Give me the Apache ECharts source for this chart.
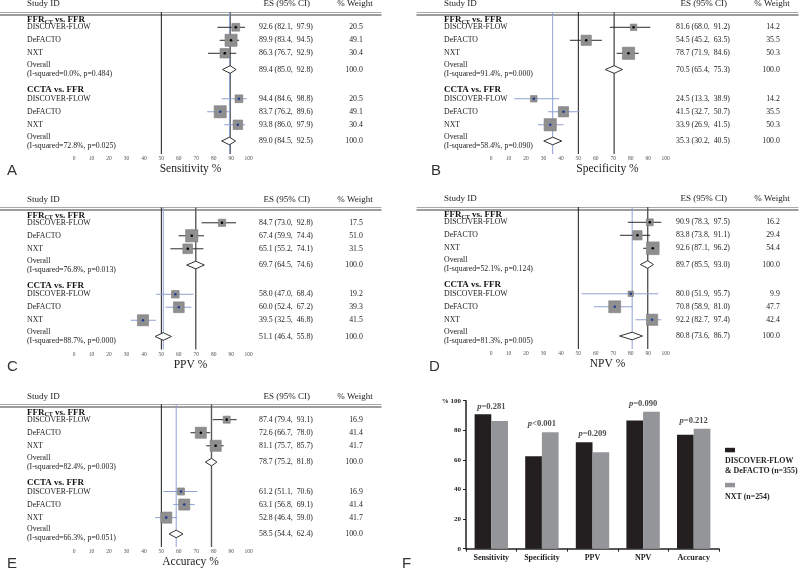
<!DOCTYPE html>
<html><head><meta charset="utf-8">
<script src="https://cdn.jsdelivr.net/npm/echarts@6.0.0/dist/echarts.min.js"></script>
<style>html,body{margin:0;padding:0;background:#fff}#c{width:800px;height:569px}</style>
</head><body><div id="c"></div><script>
// ---------------- DATA ----------------
const studyNames = ['DISCOVER-FLOW', 'DeFACTO', 'NXT'];
const groupNames = ['FFRCT vs. FFR', 'CCTA vs. FFR'];
const headerLabels = ['Study ID', 'ES (95% CI)', '% Weight'];
const xTickValues = [0, 10, 20, 30, 40, 50, 60, 70, 80, 90, 100];
const panelTitles = ['Sensitivity %', 'Specificity %', 'PPV %', 'NPV %', 'Accuracy %'];
const panelLetters = ['A', 'B', 'C', 'D', 'E', 'F'];

// study rows: [ES, lower 95% CI, upper 95% CI, % weight]
const sensFfrct = [[92.6, 82.1, 97.9, 20.5], [89.9, 83.4, 94.5, 49.1], [86.3, 76.7, 92.9, 30.4]];
const sensFfrctOverall = [89.4, 85.0, 92.8];
const sensFfrctHet = [0.0, 0.484];
const sensCcta = [[94.4, 84.6, 98.8, 20.5], [83.7, 76.2, 89.6, 49.1], [93.8, 86.0, 97.9, 30.4]];
const sensCctaOverall = [89.0, 84.5, 92.5];
const sensCctaHet = [72.8, 0.025];

const specFfrct = [[81.6, 68.0, 91.2, 14.2], [54.5, 45.2, 63.5, 35.5], [78.7, 71.9, 84.6, 50.3]];
const specFfrctOverall = [70.5, 65.4, 75.3];
const specFfrctHet = [91.4, 0.000];
const specCcta = [[24.5, 13.3, 38.9, 14.2], [41.5, 32.7, 50.7, 35.5], [33.9, 26.9, 41.5, 50.3]];
const specCctaOverall = [35.3, 30.2, 40.5];
const specCctaHet = [58.4, 0.090];

const ppvFfrct = [[84.7, 73.0, 92.8, 17.5], [67.4, 59.9, 74.4, 51.0], [65.1, 55.2, 74.1, 31.5]];
const ppvFfrctOverall = [69.7, 64.5, 74.6];
const ppvFfrctHet = [76.8, 0.013];
const ppvCcta = [[58.0, 47.0, 68.4, 19.2], [60.0, 52.4, 67.2, 39.3], [39.5, 32.5, 46.8, 41.5]];
const ppvCctaOverall = [51.1, 46.4, 55.8];
const ppvCctaHet = [88.7, 0.000];

const npvFfrct = [[90.9, 78.3, 97.5, 16.2], [83.8, 73.8, 91.1, 29.4], [92.6, 87.1, 96.2, 54.4]];
const npvFfrctOverall = [89.7, 85.5, 93.0];
const npvFfrctHet = [52.1, 0.124];
const npvCcta = [[80.0, 51.9, 95.7, 9.9], [70.8, 58.9, 81.0, 47.7], [92.2, 82.7, 97.4, 42.4]];
const npvCctaOverall = [80.8, 73.6, 86.7];
const npvCctaHet = [81.3, 0.005];

const accFfrct = [[87.4, 79.4, 93.1, 16.9], [72.6, 66.7, 78.0, 41.4], [81.1, 75.7, 85.7, 41.7]];
const accFfrctOverall = [78.7, 75.2, 81.8];
const accFfrctHet = [82.4, 0.003];
const accCcta = [[61.2, 51.1, 70.6, 16.9], [63.1, 56.8, 69.1, 41.4], [52.8, 46.4, 59.0, 41.7]];
const accCctaOverall = [58.5, 54.4, 62.4];
const accCctaHet = [66.3, 0.051];

// panel F
const barCategories = ['Sensitivity', 'Specificity', 'PPV', 'NPV', 'Accuracy'];
const barSeriesNames = ['DISCOVER-FLOW\n& DeFACTO (n=355)', 'NXT (n=254)'];
const barDfDefacto = [90.8, 62.5, 72.0, 86.6, 77.0];
const barNxt = [86.3, 78.7, 65.1, 92.6, 81.1];
const barPValues = ['=0.281', '<0.001', '=0.209', '=0.090', '=0.212'];

// ---------------- LAYOUT ----------------
const SERIF = '"Liberation Serif", "Times New Roman", serif';
const SANS = '"Liberation Sans", Arial, sans-serif';
const PX_PER_UNIT = 1.747;
const PANEL_W = 381;
const ZERO_OFFSET = 74;
const X_MIN = -ZERO_OFFSET / PX_PER_UNIT;
const X_MAX = X_MIN + PANEL_W / PX_PER_UNIT;
const STUDY_X = -26.9, ES_X = 105.9, WT_X = 165.3, ES_HEAD_X = 121.8, WT_HEAD_X = 160.8;
const studyRowPos = [[1, 2, 3], [6.5, 7.5, 8.5]];
const overallRowPos = [4.25, 9.75];
const groupRowPos = [0.45, 5.82];
const headerRowPos = -0.8;
const Y_MIN = -0.177, Y_MAX = 10.75;

const panelBoxes = [
  { left: 0, top: 12, height: 142 },
  { left: 417, top: 12, height: 142 },
  { left: 0, top: 207.5, height: 142 },
  { left: 417, top: 207, height: 142 },
  { left: 0, top: 404.3, height: 143 }
];
const panelData = [
  [[sensFfrct, sensFfrctOverall, sensFfrctHet], [sensCcta, sensCctaOverall, sensCctaHet]],
  [[specFfrct, specFfrctOverall, specFfrctHet], [specCcta, specCctaOverall, specCctaHet]],
  [[ppvFfrct, ppvFfrctOverall, ppvFfrctHet], [ppvCcta, ppvCctaOverall, ppvCctaHet]],
  [[npvFfrct, npvFfrctOverall, npvFfrctHet], [npvCcta, npvCctaOverall, npvCctaHet]],
  [[accFfrct, accFfrctOverall, accFfrctHet], [accCcta, accCctaOverall, accCctaHet]]
];

const TEXT = '#1c1c1c';
const CI_COLORS = ['#2a2a2a', '#8ea1d3'];
const DOT_COLORS = ['#000000', '#1f3b94'];
const REF_COLORS = ['#5a5a5a', '#8ea1d3'];

function fmtCI(es, lo, hi) {
  return es.toFixed(1) + ' (' + lo.toFixed(1) + ',  ' + hi.toFixed(1) + ')';
}

const grids = [], xAxes = [], yAxes = [], series = [], graphics = [];

panelData.forEach((groups, pi) => {
  const box = panelBoxes[pi];
  grids.push({ left: box.left, top: box.top, width: PANEL_W, height: box.height, containLabel: false });
  xAxes.push({
    type: 'value', gridIndex: pi, min: X_MIN, max: X_MAX, position: 'bottom',
    axisLine: { show: true, lineStyle: { color: '#7d7d7d', width: 1.5 } },
    axisTick: { show: false },
    axisLabel: { customValues: xTickValues, fontSize: 5.5, margin: 2, color: '#555', fontFamily: SERIF },
    splitLine: { show: false },
    name: panelTitles[pi], nameLocation: 'middle', nameGap: 9,
    nameTextStyle: { fontSize: 11.5, fontFamily: SERIF, color: TEXT }
  });
  xAxes.push({
    type: 'value', gridIndex: pi, min: X_MIN, max: X_MAX, position: 'top',
    axisLine: { show: true, lineStyle: { color: '#a8a8a8', width: 1 } },
    axisTick: { show: false }, axisLabel: { show: false }, splitLine: { show: false }
  });
  yAxes.push({ type: 'value', gridIndex: pi, inverse: true, min: Y_MIN, max: Y_MAX, show: false });

  const xi = pi * 2, yi = pi;

  // reference lines: null (50), overall FFRct, overall CCTA
  const refData = [[50, 0], [groups[0][1][0], 1], [groups[1][1][0], 2]];
  series.push({
    type: 'custom', xAxisIndex: xi, yAxisIndex: yi, silent: true, z: 1, data: refData,
    renderItem: (params, api) => {
      const x = api.value(0), k = api.value(1);
      const p1 = api.coord([x, Y_MIN]), p2 = api.coord([x, Y_MAX]);
      const color = k === 0 ? '#1a1a1a' : REF_COLORS[k - 1];
      const w = k === 0 ? 1 : (k === 1 ? 1.4 : 1);
      return { type: 'line', shape: { x1: p1[0], y1: p1[1], x2: p2[0], y2: p2[1] }, style: { stroke: color, lineWidth: w } };
    }
  });

  // studies
  const studyData = [];
  groups.forEach((g, gi) => g[0].forEach((r, ri) => studyData.push([r[0], r[1], r[2], r[3], studyRowPos[gi][ri], gi])));
  series.push({
    type: 'custom', xAxisIndex: xi, yAxisIndex: yi, silent: true, z: 3, data: studyData,
    renderItem: (params, api) => {
      const es = api.value(0), lo = api.value(1), hi = api.value(2), wt = api.value(3), row = api.value(4), g = api.value(5);
      const pE = api.coord([es, row]), pL = api.coord([lo, row]), pH = api.coord([hi, row]);
      const s = 1.72 * Math.sqrt(wt);
      return {
        type: 'group', children: [
          { type: 'line', shape: { x1: pL[0], y1: pL[1], x2: pH[0], y2: pH[1] }, style: { stroke: CI_COLORS[g], lineWidth: 1 } },
          { type: 'rect', shape: { x: pE[0] - s / 2, y: pE[1] - s / 2, width: s, height: s }, style: { fill: '#8f8f8f', stroke: '#7b7b7b', lineWidth: 0.6 } },
          { type: 'circle', shape: { cx: pE[0], cy: pE[1], r: 1.3 }, style: { fill: DOT_COLORS[g] } }
        ]
      };
    }
  });

  // overall diamonds
  const diaData = groups.map((g, gi) => [g[1][0], g[1][1], g[1][2], overallRowPos[gi]]);
  series.push({
    type: 'custom', xAxisIndex: xi, yAxisIndex: yi, silent: true, z: 3, data: diaData,
    renderItem: (params, api) => {
      const es = api.value(0), lo = api.value(1), hi = api.value(2), row = api.value(3);
      const pE = api.coord([es, row]), pL = api.coord([lo, row]), pH = api.coord([hi, row]);
      const h = 3.8;
      return {
        type: 'polygon', shape: { points: [[pL[0], pL[1]], [pE[0], pE[1] - h], [pH[0], pH[1]], [pE[0], pE[1] + h]] },
        style: { fill: '#fff', stroke: '#333', lineWidth: 1 }
      };
    }
  });

  // texts
  const items = [];
  items.push({ x: STUDY_X, y: headerRowPos, text: headerLabels[0], align: 'left', size: 9 });
  items.push({ x: ES_HEAD_X, y: headerRowPos, text: headerLabels[1], align: 'center', size: 9 });
  items.push({ x: WT_HEAD_X, y: headerRowPos, text: headerLabels[2], align: 'center', size: 9 });
  groups.forEach((g, gi) => {
    const gname = groupNames[gi];
    const label = gname.startsWith('FFRCT') ? '{b|FFR}{s|CT}{b|' + gname.slice(5) + '}' : '{b|' + gname + '}';
    items.push({ x: STUDY_X, y: groupRowPos[gi], text: label, align: 'left', rich: true });
    g[0].forEach((r, ri) => {
      const row = studyRowPos[gi][ri];
      items.push({ x: STUDY_X, y: row, text: studyNames[ri], align: 'left', size: 7.8 });
      items.push({ x: ES_X, y: row, text: fmtCI(r[0], r[1], r[2]), align: 'left', size: 7.8 });
      items.push({ x: WT_X, y: row, text: r[3].toFixed(1), align: 'right', size: 7.8 });
    });
    const ov = g[1], het = g[2], orow = overallRowPos[gi];
    items.push({ x: STUDY_X, y: orow, text: 'Overall\n(I-squared=' + het[0].toFixed(1) + '%, p=' + het[1].toFixed(3) + ')', align: 'left', size: 7.8, lh: 9 });
    items.push({ x: ES_X, y: orow, text: fmtCI(ov[0], ov[1], ov[2]), align: 'left', size: 7.8 });
    items.push({ x: WT_X, y: orow, text: (100).toFixed(1), align: 'right', size: 7.8 });
  });
  series.push({
    type: 'custom', xAxisIndex: xi, yAxisIndex: yi, silent: true, z: 5,
    data: items.map(t => [t.x, t.y]),
    renderItem: (params, api) => {
      const t = items[params.dataIndex];
      const p = api.coord([api.value(0), api.value(1)]);
      const style = {
        text: t.text, fill: TEXT, fontFamily: SERIF, fontSize: t.size || 9,
        align: t.align, verticalAlign: 'middle', lineHeight: t.lh || (t.size || 9) + 1
      };
      if (t.rich) {
        style.rich = {
          b: { fontSize: 9, fontWeight: 'bold', fontFamily: SERIF, fill: '#111', lineHeight: 10 },
          s: { fontSize: 6, fontWeight: 'bold', fontFamily: SERIF, fill: '#111', verticalAlign: 'bottom', padding: [3, 0, 0, 0] }
        };
      }
      return { type: 'text', x: p[0], y: p[1], style: style };
    }
  });
});

// ---------------- PANEL F ----------------
const fi = 5;
grids.push({ left: 466, top: 400.7, width: 253, height: 148, containLabel: false });
xAxes.push({
  type: 'category', gridIndex: fi, data: barCategories,
  axisLine: { show: true, lineStyle: { color: '#222', width: 1.5 } },
  axisTick: { show: true, length: 3, lineStyle: { color: '#222' } },
  axisLabel: { fontSize: 8, fontWeight: 'bold', fontFamily: SERIF, color: '#222', margin: 5 }
});
yAxes.push({
  type: 'value', gridIndex: fi, min: 0, max: 100, interval: 20,
  axisLine: { show: true, lineStyle: { color: '#222', width: 1.5 } },
  axisTick: { show: true, length: 3, lineStyle: { color: '#222' } },
  axisLabel: { fontSize: 7, fontWeight: 'bold', fontFamily: SERIF, color: '#222', margin: 5, formatter: v => v === 100 ? '% 100' : String(v) },
  splitLine: { show: false }
});
series.push({
  type: 'bar', name: barSeriesNames[0], xAxisIndex: 10, yAxisIndex: fi, data: barDfDefacto,
  itemStyle: { color: '#231f20' }, barGap: '0%', barCategoryGap: '34%'
});
series.push({
  type: 'bar', name: barSeriesNames[1], xAxisIndex: 10, yAxisIndex: fi, data: barNxt,
  itemStyle: { color: '#939598' }, barGap: '0%', barCategoryGap: '34%'
});
series.push({
  type: 'scatter', xAxisIndex: 10, yAxisIndex: fi, silent: true, symbolSize: 1,
  itemStyle: { color: 'transparent' },
  data: barCategories.map((c, i) => Math.max(barDfDefacto[i], barNxt[i])),
  label: {
    show: true, position: 'top', distance: 3,
    formatter: p => '{i|p}{n|' + barPValues[p.dataIndex] + '}',
    rich: {
      i: { fontSize: 8.5, fontWeight: 'bold', fontStyle: 'italic', fontFamily: SERIF, color: '#222' },
      n: { fontSize: 8.5, fontWeight: 'bold', fontFamily: SERIF, color: '#222' }
    }
  }
});

// legend (drawn)
graphics.push({ type: 'rect', left: 725, top: 447.8, shape: { width: 10, height: 4.5 }, style: { fill: '#231f20' } });
graphics.push({ type: 'text', left: 725, top: 456.5, style: { text: barSeriesNames[0], fontSize: 7.9, fontWeight: 'bold', fontFamily: SERIF, fill: '#222', lineHeight: 9.5 } });
graphics.push({ type: 'rect', left: 725, top: 482.8, shape: { width: 10, height: 4.5 }, style: { fill: '#939598' } });
graphics.push({ type: 'text', left: 725, top: 492.5, style: { text: barSeriesNames[1], fontSize: 7.9, fontWeight: 'bold', fontFamily: SERIF, fill: '#222', lineHeight: 9.5 } });

// panel letters
const letterPos = [[7, 163], [431, 163], [7, 359], [429, 359], [7, 556], [402, 556]];
panelLetters.forEach((L, i) => {
  graphics.push({ type: 'text', left: letterPos[i][0], top: letterPos[i][1], style: { text: L, fontSize: 15, fontFamily: SANS, fill: '#333' } });
});

const chart = echarts.init(document.getElementById('c'), null, { renderer: 'canvas' });
chart.setOption({
  animation: false,
  backgroundColor: '#fff',
  grid: grids, xAxis: xAxes, yAxis: yAxes, series: series, graphic: graphics
});
</script></body></html>
